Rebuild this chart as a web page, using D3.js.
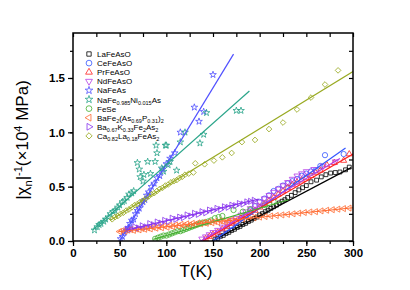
<!DOCTYPE html>
<html><head><meta charset="utf-8">
<script src="https://cdn.jsdelivr.net/npm/d3@7"></script>
<style>
body{margin:0;background:#fff}
svg{font-family:Arial,"Liberation Sans",sans-serif}
</style>
</head><body><svg id="chart" width="410" height="290"></svg>
<script>
// Data: temperature (K) and |chi_n|^-1 (x10^4 MPa)
var laT = [152,155,158,161,164,167,170,173,176,179,182,185,188,191,194,197,200,203,206,209,212,215,218,221,224,227,230,234,238,242,246,250,255,261,266,271,276,281,286,292,296];
var laV = [0.012,0.025,0.043,0.052,0.07,0.08,0.097,0.108,0.125,0.135,0.152,0.163,0.18,0.192,0.208,0.22,0.24,0.252,0.27,0.283,0.3,0.315,0.33,0.35,0.366,0.38,0.4,0.42,0.445,0.47,0.49,0.51,0.545,0.56,0.59,0.61,0.625,0.63,0.635,0.655,0.68];
var ceT = [155,160,165,170,175,180,185,190,195,200,205,210,215,220,225,230,235,240,245,250,255,260,265,270,290];
var ceV = [0.03,0.07,0.1,0.14,0.17,0.21,0.24,0.28,0.32,0.36,0.39,0.42,0.46,0.48,0.51,0.53,0.55,0.57,0.6,0.62,0.64,0.65,0.69,0.79,0.8];
var prT = [142,146,150,155,160,165,170,175,180,185,190,195,200,205,210,215,220,225,230,235,240,245,250,255,260,265,272,280,290,296];
var prV = [0.02,0.04,0.06,0.08,0.11,0.13,0.16,0.18,0.21,0.23,0.26,0.28,0.31,0.34,0.37,0.4,0.43,0.46,0.49,0.52,0.54,0.56,0.58,0.6,0.63,0.65,0.7,0.72,0.74,0.8];
var ndT = [138,142,146,150,155,160,165,170,175,180,185,190,195,200,205,210,215,220,225,230,235,240,245,250,258,268,281];
var ndV = [0.02,0.04,0.06,0.08,0.1,0.13,0.16,0.19,0.21,0.24,0.27,0.3,0.33,0.36,0.39,0.42,0.45,0.48,0.51,0.54,0.57,0.6,0.62,0.64,0.66,0.69,0.73];
var naT = [51,53,55,57,59,61,63,65,67,69,71,73,75,77,79,81,84,87,90,93,96,100,104,109,115,130,135,140,150];
var naV = [0.02,0.04,0.08,0.1,0.12,0.16,0.19,0.2,0.25,0.28,0.3,0.34,0.36,0.38,0.42,0.45,0.5,0.53,0.58,0.6,0.66,0.71,0.76,0.81,1.0,1.23,1.1,1.19,1.53];
var niT = [23,26,28,30,33,35,38,40,43,45,48,50,53,55,58,60,63,65,69,71,72,75,76,80,83,88,89,90,95,97,99,100,102,104,111,115,120,136,140,143,175,180];
var niV = [0.1,0.13,0.15,0.16,0.18,0.2,0.22,0.25,0.27,0.28,0.31,0.33,0.36,0.37,0.4,0.43,0.44,0.46,0.72,0.66,0.59,0.55,0.61,0.73,0.62,0.73,0.88,0.81,0.67,0.64,0.88,0.88,0.7,0.73,0.65,0.91,1.0,0.9,0.98,1.18,1.2,1.2];
var feT = [88,91,94,97,100,103,106,109,112,115,118,121,124,127,130,133,136,139,142,145,148,152,156,160,172,182,190,206,215];
var feV = [0.02,0.03,0.04,0.05,0.05,0.06,0.07,0.08,0.09,0.09,0.1,0.11,0.12,0.13,0.14,0.15,0.16,0.17,0.17,0.18,0.19,0.21,0.22,0.23,0.285,0.27,0.29,0.33,0.36];
var bpT = [50,53,56,59,62,65,68,71,74,77,80,83,86,89,92,95,98,101,104,107,110,113,116,119,122,125,128,131,134,137,140,143,146,149,152,155,158,161,164,167,170,176,182,188,194,200,206,212,218,224,230,236,242,248,254,260,266,272,278,284,290,296];
var bpV = [0.087,0.095,0.09,0.1,0.105,0.098,0.11,0.103,0.115,0.108,0.12,0.112,0.127,0.118,0.132,0.122,0.138,0.127,0.142,0.133,0.148,0.138,0.153,0.143,0.158,0.148,0.162,0.153,0.167,0.158,0.172,0.163,0.176,0.168,0.18,0.173,0.185,0.18,0.19,0.186,0.195,0.198,0.203,0.21,0.214,0.22,0.225,0.23,0.235,0.24,0.245,0.25,0.256,0.262,0.267,0.27,0.277,0.283,0.288,0.293,0.298,0.303];
var bkT = [58,62,66,70,74,78,82,86,90,94,98,102,106,110,114,118,122,126,130,134,138,142,146,150,154,158,162,166,170,174,178,182,186,190,194];
var bkV = [0.11,0.11,0.13,0.12,0.14,0.13,0.16,0.15,0.175,0.165,0.19,0.18,0.21,0.2,0.22,0.215,0.24,0.23,0.255,0.245,0.27,0.26,0.285,0.28,0.3,0.29,0.315,0.31,0.33,0.325,0.345,0.34,0.36,0.365,0.375];
var caT = [42,45,48,51,54,57,60,63,66,69,72,75,78,81,84,87,90,93,96,99,102,105,108,111,114,117,120,124,129,131,141,151,160,170,181,195,210,225,240,255,270,284];
var caV = [0.2,0.22,0.23,0.25,0.26,0.28,0.29,0.31,0.33,0.34,0.36,0.37,0.39,0.41,0.43,0.44,0.46,0.48,0.49,0.51,0.52,0.54,0.55,0.56,0.58,0.59,0.61,0.62,0.63,0.715,0.706,0.74,0.77,0.81,0.91,0.93,1.03,1.09,1.21,1.32,1.44,1.57];

// linear fits: [T start, value start, T end, value end]
var laFit = [149, 0, 298, 0.675];
var ceFit = [150, 0, 292, 0.855];
var prFit = [139, 0, 300, 0.8];
var ndFit = [137, 0, 286, 0.76];
var naFit = [50, 0, 172, 1.72];
var niFit = [21, 0.1, 189, 1.38];
var feFit = [86, 0.015, 231, 0.38];
var bpFit = [48, 0.085, 300, 0.306];
var bkFit = [57, 0.1, 199, 0.385];
var caFit = [40, 0.19, 300, 1.56];

var xTicks = [0, 50, 100, 150, 200, 250, 300];
var yTicks = [0.0, 0.5, 1.0, 1.5];

// legend name pieces: [text, isSubscript]
var series = [
  {T: laT, V: laV, fit: laFit, color: "#000000", sym: d3.symbolSquare, rot: 0, size: 15, name: [["LaFeAsO", 0]]},
  {T: ceT, V: ceV, fit: ceFit, color: "#3355ff", sym: d3.symbolCircle, rot: 0, size: 22, name: [["CeFeAsO", 0]]},
  {T: prT, V: prV, fit: prFit, color: "#ff2222", sym: d3.symbolTriangle, rot: 0, size: 16, name: [["PrFeAsO", 0]]},
  {T: ndT, V: ndV, fit: ndFit, color: "#b53ce6", sym: d3.symbolTriangle, rot: 180, size: 16, name: [["NdFeAsO", 0]]},
  {T: naT, V: naV, fit: naFit, color: "#5050ff", sym: d3.symbolStar, rot: 0, size: 14, name: [["NaFeAs", 0]]},
  {T: niT, V: niV, fit: niFit, color: "#2aa58a", sym: d3.symbolStar, rot: 0, size: 14, name: [["NaFe", 0], ["0.985", 1], ["Ni", 0], ["0.015", 1], ["As", 0]]},
  {T: feT, V: feV, fit: feFit, color: "#44b030", sym: d3.symbolCircle, rot: 0, size: 22, name: [["FeSe", 0]]},
  {T: bpT, V: bpV, fit: bpFit, color: "#ff6a30", sym: d3.symbolTriangle, rot: -90, size: 16, name: [["BaFe", 0], ["2", 1], ["(As", 0], ["0.69", 1], ["P", 0], ["0.31", 1], [")", 0], ["2", 1]]},
  {T: bkT, V: bkV, fit: bkFit, color: "#8833ee", sym: d3.symbolTriangle, rot: 90, size: 16, name: [["Ba", 0], ["0.67", 1], ["K", 0], ["0.33", 1], ["Fe", 0], ["2", 1], ["As", 0], ["2", 1]]},
  {T: caT, V: caV, fit: caFit, color: "#99aa22", sym: d3.symbolSquare, rot: 45, size: 16, name: [["Ca", 0], ["0.82", 1], ["La", 0], ["0.18", 1], ["FeAs", 0], ["2", 1]]}
];

var svg = d3.select("#chart");
var plotL = 73, plotR = 353, plotT = 33, plotB = 241;

var x = d3.scaleLinear().domain([0, 300]).range([plotL, plotR]);
var y = d3.scaleLinear().domain([0, 1.914]).range([plotB, plotT]);

svg.append("defs").append("clipPath").attr("id", "clip")
  .append("rect").attr("x", plotL).attr("y", plotT).attr("width", plotR - plotL).attr("height", plotB - plotT);

var plot = svg.append("g").attr("clip-path", "url(#clip)");

// points first, fit lines on top
series.forEach(function(s) {
  var sym = d3.symbol().type(s.sym).size(s.size);
  plot.append("g").selectAll("path")
    .data(s.T.map(function(t, i) { return [t, s.V[i]]; }))
    .enter().append("path")
    .attr("d", sym)
    .attr("transform", function(d) { return "translate(" + x(d[0]) + "," + y(d[1]) + ") rotate(" + s.rot + ")"; })
    .attr("fill", "none")
    .attr("stroke", s.color)
    .attr("stroke-width", 0.8);
});
series.forEach(function(s) {
  plot.append("line")
    .attr("x1", x(s.fit[0])).attr("y1", y(s.fit[1]))
    .attr("x2", x(s.fit[2])).attr("y2", y(s.fit[3]))
    .attr("stroke", s.color)
    .attr("stroke-width", 1.2);
});

// axes
var xMinor = d3.range(0, 301, 25), yMinor = d3.range(0, 1.91, 0.25);
function styleAxis(g) {
  g.select(".domain").remove();
  g.selectAll("line").attr("stroke", "#000").attr("stroke-width", 1.2);
  g.selectAll("text").attr("font-size", "11.5px").attr("font-weight", "bold").attr("fill", "#000");
}
svg.append("g").attr("transform", "translate(0," + plotB + ")")
  .call(d3.axisBottom(x).tickValues(xMinor).tickSize(3).tickFormat(""))
  .call(styleAxis);
svg.append("g").attr("transform", "translate(0," + plotB + ")")
  .call(d3.axisBottom(x).tickValues(xTicks).tickSize(5).tickPadding(3).tickFormat(d3.format("d")))
  .call(styleAxis);
svg.append("g").attr("transform", "translate(" + plotL + ",0)")
  .call(d3.axisLeft(y).tickValues(yMinor).tickSize(3).tickFormat(""))
  .call(styleAxis);
svg.append("g").attr("transform", "translate(" + plotL + ",0)")
  .call(d3.axisLeft(y).tickValues(yTicks).tickSize(5).tickPadding(3).tickFormat(d3.format(".1f")))
  .call(styleAxis);
svg.append("g").attr("transform", "translate(0," + plotT + ")")
  .call(d3.axisBottom(x).tickValues(xMinor).tickSize(4).tickFormat(""))
  .call(styleAxis);
svg.append("g").attr("transform", "translate(" + plotR + ",0)")
  .call(d3.axisLeft(y).tickValues(yMinor).tickSize(4).tickFormat(""))
  .call(styleAxis);

svg.append("rect").attr("x", plotL).attr("y", plotT).attr("width", plotR - plotL).attr("height", plotB - plotT)
  .attr("fill", "none").attr("stroke", "#000").attr("stroke-width", 1.5);

// axis titles
svg.append("text").attr("x", 196).attr("y", 277).attr("text-anchor", "middle")
  .attr("font-size", "17px").text("T(K)");

var yl = svg.append("text").attr("transform", "translate(28,140) rotate(-90)")
  .attr("text-anchor", "middle").attr("font-size", "17px");
yl.append("tspan").text("|\u03C7");
yl.append("tspan").attr("font-size", "11px").attr("dy", 4).text("n");
yl.append("tspan").attr("dy", -4).text("|");
yl.append("tspan").attr("font-size", "11px").attr("dy", -6).text("-1");
yl.append("tspan").attr("dy", 6).text("(\u00D710");
yl.append("tspan").attr("font-size", "11px").attr("dy", -6).text("4");
yl.append("tspan").attr("dy", 6).text(" MPa)");

// legend
var legend = svg.append("g").selectAll(".legend")
  .data(series).enter().append("g")
  .attr("class", "legend")
  .attr("transform", function(d, i) { return "translate(89," + (54 + i * 9.1) + ")"; });

legend.append("path")
  .attr("d", function(d) { return d3.symbol().type(d.sym).size(d.size + 4)(); })
  .attr("transform", function(d) { return "rotate(" + d.rot + ")"; })
  .attr("fill", "none").attr("stroke", function(d) { return d.color; }).attr("stroke-width", 0.8);

legend.append("text")
  .attr("x", 8).attr("y", 3)
  .attr("font-size", "8px")
  .each(function(d) {
    var t = d3.select(this), shifted = 0;
    d.name.forEach(function(p) {
      var dy = p[1] ? 2 - shifted : -shifted;
      shifted += dy;
      t.append("tspan").attr("dy", dy).attr("font-size", p[1] ? "5.5px" : "8px").text(p[0]);
    });
  });
</script></body></html>
